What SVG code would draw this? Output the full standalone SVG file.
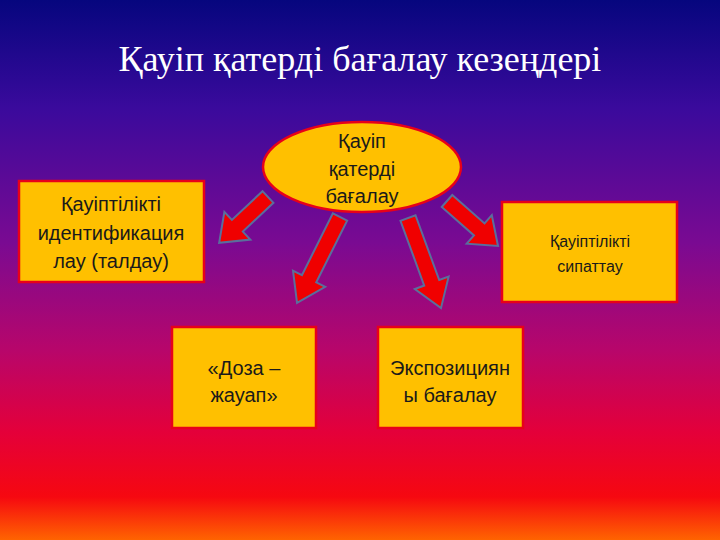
<svg xmlns="http://www.w3.org/2000/svg" width="720" height="540" viewBox="0 0 720 540">
<defs>
<linearGradient id="bg" x1="0" y1="0" x2="0" y2="1">
<stop offset="0" stop-color="#06067e"/>
<stop offset="0.2" stop-color="#3a0a9c"/>
<stop offset="0.45" stop-color="#7a0a92"/>
<stop offset="0.65" stop-color="#b8066a"/>
<stop offset="0.8" stop-color="#e4003a"/>
<stop offset="0.92" stop-color="#f60810"/>
<stop offset="1" stop-color="#ff6400"/>
</linearGradient>
<style>
.box{fill:#FFC000;stroke:#E8001a;stroke-width:2.5}
.t{font-family:"Liberation Sans","Open Sans",sans-serif;fill:#1a1a1a;text-anchor:middle}
.arr{fill:#F00000;stroke:#5a6e9c;stroke-width:2;stroke-linejoin:miter}
</style>
</defs>
<rect width="720" height="540" fill="url(#bg)"/>
<text x="360" y="71" font-family="'Liberation Serif','Times New Roman',serif" font-size="36" fill="#ffffff" text-anchor="middle">Қауіп қатерді бағалау кезеңдері</text>
<g id="connectors">
<path class="arr" transform="translate(268,197) rotate(136.8)" d="M0,-8 L42,-8 L42,-19 L67,0 L42,19 L42,8 L0,8 Z"/>
<path class="arr" transform="translate(340,217) rotate(116.6)" d="M0,-8 L69,-8 L69,-18 L96,0 L69,18 L69,8 L0,8 Z"/>
<path class="arr" transform="translate(408,218) rotate(69.9)" d="M0,-8 L69,-8 L69,-18 L96,0 L69,18 L69,8 L0,8 Z"/>
<path class="arr" transform="translate(447,201) rotate(41.4)" d="M0,-8 L43,-8 L43,-19 L68,0 L43,19 L43,8 L0,8 Z"/>
</g>
<g id="center">
<ellipse cx="362" cy="167" rx="99" ry="45" class="box"/>
<text class="t" font-size="20" x="362" y="148">Қауіп</text>
<text class="t" font-size="20" x="362" y="176">қатерді</text>
<text class="t" font-size="20" x="362" y="203">бағалау</text>
</g>
<g id="ident">
<rect x="19" y="181" width="185" height="101" class="box"/>
<text class="t" font-size="20" x="111" y="211">Қауіптілікті</text>
<text class="t" font-size="20" x="111" y="240">идентификация</text>
<text class="t" font-size="20" x="111" y="268">лау (талдау)</text>
</g>
<g id="char">
<rect x="502" y="202" width="175" height="100" class="box"/>
<text class="t" font-size="16" x="590" y="247">Қауіптілікті</text>
<text class="t" font-size="16" x="590" y="272">сипаттау</text>
</g>
<g id="dose">
<rect x="172" y="327" width="144" height="101" class="box"/>
<text class="t" font-size="20" x="244" y="375">«Доза –</text>
<text class="t" font-size="20" x="244" y="402">жауап»</text>
</g>
<g id="expo">
<rect x="378" y="327" width="145" height="101" class="box"/>
<text class="t" font-size="20" x="450" y="375">Экспозициян</text>
<text class="t" font-size="20" x="450" y="402">ы бағалау</text>
</g>
</svg>
